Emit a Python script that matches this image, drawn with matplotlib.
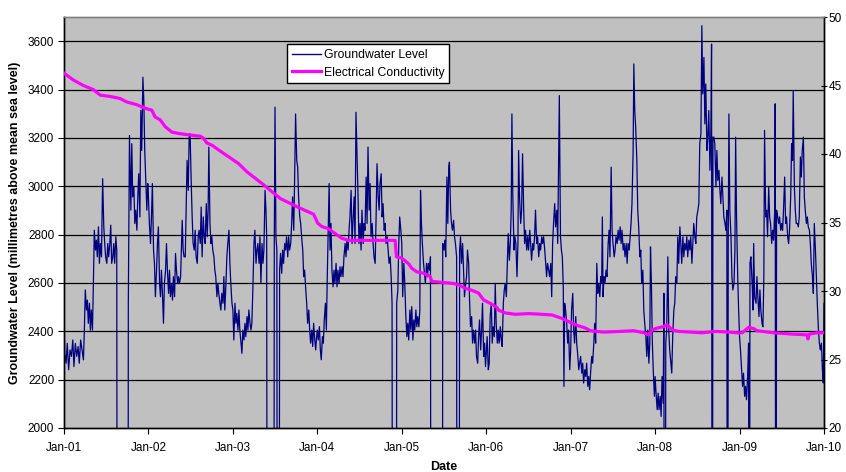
import matplotlib
matplotlib.use("Agg")
import matplotlib.pyplot as plt
from matplotlib.lines import Line2D

plt.rcParams["font.family"] = ["Liberation Sans", "DejaVu Sans"]

# Groundwater level readings per year: (day of year, millimetres above mean sea level).
# A reading of 0 marks a logger dropout.
gw_2001 = [(0, 2529), (3, 2309), (9, 2268), (14, 2350), (20, 2241), (26, 2323), (32, 2296), (38, 2364),
           (43, 2254), (49, 2350), (55, 2296), (61, 2337), (66, 2268), (72, 2364), (78, 2323), (84, 2282),
           (88, 2405), (92, 2571), (97, 2488), (101, 2529), (105, 2433), (110, 2516), (114, 2405), (118, 2488),
           (123, 2405), (127, 2598), (131, 2818), (136, 2736), (140, 2777), (144, 2708), (149, 2832), (153, 2681),
           (157, 2763), (162, 2708), (167, 3031), (172, 2832), (176, 2763), (180, 2708), (185, 2681), (189, 2763),
           (193, 2708), (198, 2763), (202, 2839), (206, 2681), (211, 2708), (215, 2763), (219, 2681), (224, 2791),
           (228, 2736), (231, 0), (276, 0), (278, 2516), (283, 3210), (289, 2901), (293, 3176), (297, 2956),
           (302, 2997), (306, 2846), (310, 2901), (315, 2818), (319, 2956), (323, 3052), (328, 2873), (332, 3313),
           (336, 3148), (341, 3451), (345, 3354), (349, 3148), (354, 3011), (358, 2901), (362, 3011)]
gw_2002 = [(0, 2956), (4, 2846), (9, 2763), (13, 2873), (17, 3011), (22, 2736), (26, 2681), (30, 2543),
           (35, 2653), (39, 2763), (43, 2832), (48, 2598), (52, 2543), (56, 2653), (61, 2543), (65, 2433),
           (69, 2598), (74, 2653), (78, 2763), (82, 2653), (87, 2557), (91, 2653), (95, 2543), (100, 2598),
           (104, 2529), (108, 2626), (113, 2543), (117, 2722), (121, 2653), (126, 2598), (130, 2626), (134, 2598),
           (139, 2626), (143, 2763), (146, 2859), (150, 2736), (154, 2708), (159, 2708), (163, 2901), (167, 3107),
           (172, 2983), (176, 3203), (180, 3217), (185, 3011), (189, 2873), (193, 2763), (198, 2736), (202, 2818),
           (206, 2708), (211, 2681), (215, 2791), (219, 2818), (224, 2763), (228, 2914), (232, 2708), (237, 2873),
           (241, 2791), (245, 2763), (250, 2928), (254, 2791), (258, 2901), (261, 3162), (266, 2846), (270, 2763),
           (274, 2791), (278, 2736), (283, 2708), (287, 2653), (291, 2626), (296, 2543), (300, 2598), (304, 2557),
           (309, 2516), (313, 2488), (317, 2557), (322, 2516), (326, 2626), (330, 2488), (335, 2598), (339, 2708),
           (343, 2763), (348, 2818), (352, 2681), (356, 2598), (361, 2516)]
gw_2003 = [(0, 2488), (4, 2364), (9, 2516), (13, 2433), (17, 2474), (22, 2405), (26, 2488), (30, 2405),
           (35, 2351), (39, 2309), (43, 2405), (48, 2364), (52, 2433), (56, 2378), (61, 2461), (65, 2405),
           (69, 2488), (74, 2433), (78, 2405), (82, 2433), (87, 2598), (91, 2763), (95, 2818), (100, 2681),
           (104, 2736), (108, 2763), (113, 2681), (117, 2791), (121, 2598), (126, 2763), (130, 2681), (134, 2736),
           (139, 2983), (143, 2901), (146, 2791), (149, 0), (176, 0), (179, 2763), (182, 3327), (186, 2791),
           (190, 2736), (193, 0), (199, 0), (202, 2653), (206, 2722), (211, 2640), (215, 2736), (219, 2681),
           (224, 2763), (228, 2736), (232, 2791), (237, 2708), (241, 2791), (245, 2736), (250, 2763), (254, 2846),
           (258, 2956), (263, 2818), (267, 3038), (271, 3299), (276, 3107), (280, 3079), (284, 2956), (289, 2873),
           (293, 2846), (297, 2791), (302, 2736), (306, 2626), (310, 2653), (315, 2571), (319, 2516), (323, 2433),
           (328, 2488), (332, 2405), (336, 2351), (341, 2405), (345, 2337), (349, 2433), (354, 2364), (358, 2323),
           (362, 2378)]
gw_2004 = [(0, 2405), (4, 2364), (9, 2419), (13, 2323), (17, 2282), (22, 2378), (26, 2351), (30, 2447),
           (35, 2516), (39, 2405), (43, 2626), (48, 2873), (51, 3011), (55, 2736), (59, 2846), (63, 2653),
           (68, 2584), (72, 2653), (76, 2598), (81, 2681), (85, 2584), (89, 2653), (94, 2598), (98, 2667),
           (102, 2626), (107, 2667), (111, 2626), (115, 2708), (120, 2763), (124, 2708), (128, 2777), (133, 2736),
           (137, 2818), (141, 2873), (146, 2983), (150, 2763), (154, 2846), (159, 2956), (163, 2763), (167, 3306),
           (172, 3107), (176, 2956), (180, 2763), (185, 2846), (189, 2736), (193, 2901), (198, 2763), (202, 2846),
           (206, 2818), (211, 3038), (215, 2846), (219, 3162), (224, 2901), (228, 3011), (232, 2791), (237, 2846),
           (241, 2763), (245, 2708), (250, 2681), (254, 2873), (258, 3093), (263, 2956), (267, 2901), (271, 3011),
           (276, 3052), (280, 2873), (284, 2928), (289, 2818), (293, 2846), (297, 2763), (302, 2791), (306, 2736),
           (310, 2681), (315, 2708), (319, 2626), (323, 2516), (326, 0), (341, 0), (343, 2516), (348, 2571),
           (352, 2763), (356, 2873), (361, 2818)]
gw_2005 = [(0, 2763), (4, 2543), (9, 2681), (13, 2598), (17, 2474), (22, 2378), (26, 2433), (30, 2364),
           (35, 2488), (39, 2405), (43, 2502), (48, 2364), (52, 2447), (56, 2405), (61, 2488), (65, 2419),
           (69, 2461), (74, 2419), (78, 2488), (81, 2983), (85, 2846), (89, 2763), (94, 2681), (98, 2639),
           (102, 2598), (107, 2681), (111, 2626), (115, 2681), (120, 2653), (124, 2708), (127, 0), (175, 0),
           (177, 2763), (182, 2736), (186, 2777), (190, 2708), (195, 3038), (199, 2846), (203, 3079), (206, 3100),
           (211, 2901), (215, 2846), (219, 2818), (224, 2859), (228, 2791), (232, 2763), (237, 2708), (239, 0),
           (247, 0), (250, 2736), (254, 2791), (258, 2681), (263, 2763), (267, 2653), (271, 2543), (276, 2598),
           (280, 2626), (284, 2736), (289, 2681), (293, 2529), (297, 2419), (302, 2461), (306, 2351), (310, 2405),
           (315, 2351), (319, 2405), (323, 2296), (328, 2268), (332, 2378), (336, 2447), (341, 2323), (345, 2405),
           (349, 2516), (354, 2296), (358, 2351), (362, 2254)]
gw_2006 = [(0, 2309), (4, 2378), (9, 2241), (13, 2268), (17, 2461), (22, 2516), (26, 2351), (30, 2419),
           (35, 2378), (39, 2598), (43, 2433), (48, 2351), (52, 2405), (56, 2351), (61, 2419), (65, 2364),
           (69, 2337), (74, 2516), (78, 2571), (82, 2598), (87, 2543), (91, 2681), (95, 2804), (100, 2694),
           (104, 2763), (108, 2901), (111, 3299), (115, 2956), (120, 2736), (124, 2791), (128, 2763), (133, 2626),
           (137, 2763), (140, 3148), (144, 2956), (149, 2846), (153, 2901), (157, 3134), (162, 2901), (166, 2763),
           (170, 2818), (175, 2736), (179, 2791), (183, 2736), (188, 2818), (192, 2763), (196, 2694), (201, 2763),
           (205, 2736), (209, 2791), (213, 2901), (218, 2763), (222, 2791), (227, 2708), (231, 2763), (235, 2736),
           (240, 2791), (244, 2763), (248, 2791), (253, 2736), (257, 2681), (261, 2626), (265, 2681), (270, 2653),
           (274, 2626), (279, 2681), (283, 2543), (287, 2763), (291, 2846), (296, 2928), (300, 2832), (305, 2901),
           (309, 2763), (312, 3038), (316, 3375), (321, 2791), (325, 2736), (329, 2708), (333, 2584), (336, 2172),
           (339, 2516), (343, 2488), (348, 2433), (352, 2351), (356, 2405), (361, 2241)]
gw_2007 = [(0, 2323), (4, 2488), (9, 2557), (13, 2405), (17, 2351), (22, 2461), (26, 2351), (30, 2309),
           (35, 2241), (39, 2268), (43, 2296), (48, 2227), (52, 2268), (56, 2186), (61, 2241), (65, 2213),
           (69, 2268), (74, 2172), (78, 2213), (82, 2158), (87, 2241), (91, 2296), (95, 2268), (100, 2351),
           (104, 2433), (108, 2351), (113, 2681), (117, 2557), (121, 2598), (126, 2543), (130, 2626), (134, 2598),
           (137, 2873), (140, 2543), (144, 2626), (148, 2598), (153, 2653), (157, 2626), (162, 2763), (166, 2818),
           (170, 2708), (175, 3079), (179, 2818), (183, 2763), (188, 2708), (192, 2736), (196, 2791), (201, 2763),
           (205, 2818), (209, 2777), (214, 2832), (218, 2763), (222, 2818), (227, 2736), (231, 2763), (235, 2708),
           (240, 2763), (244, 2681), (248, 2763), (253, 2736), (257, 2791), (261, 2846), (265, 2928), (270, 3148),
           (273, 3506), (277, 3313), (281, 3244), (286, 3107), (290, 2901), (294, 2832), (299, 2708), (303, 2736),
           (307, 2598), (312, 2653), (316, 2488), (320, 2433), (325, 2378), (329, 2296), (333, 2405), (338, 2268),
           (342, 2351), (345, 2749), (349, 2598), (353, 2351), (358, 2213), (362, 2131)]
gw_2008 = [(0, 2213), (4, 2144), (9, 2076), (13, 2144), (17, 2076), (22, 2131), (26, 2048), (30, 2213),
           (35, 2103), (38, 2557), (40, 0), (43, 0), (46, 2351), (50, 2405), (55, 2708), (59, 2405),
           (63, 2323), (68, 2268), (72, 2227), (76, 2378), (81, 2488), (85, 2516), (89, 2626), (94, 2598),
           (98, 2791), (102, 2681), (107, 2832), (111, 2763), (115, 2681), (120, 2791), (124, 2708), (128, 2763),
           (133, 2736), (137, 2791), (141, 2708), (146, 2777), (150, 2736), (154, 2791), (159, 2681), (163, 2763),
           (167, 2846), (172, 2791), (176, 2763), (180, 2873), (185, 2901), (189, 2928), (193, 3176), (198, 3217),
           (202, 3664), (206, 3382), (211, 3533), (215, 3258), (219, 3423), (224, 3148), (228, 3203), (232, 3313),
           (237, 3066), (241, 3231), (244, 3588), (247, 0), (250, 3203), (254, 3203), (258, 3176), (263, 2997),
           (267, 3148), (271, 3024), (276, 3066), (280, 2983), (284, 2928), (289, 3038), (293, 2956), (297, 2873),
           (302, 2846), (306, 2818), (310, 2901), (313, 0), (316, 2763), (319, 3299), (323, 2901), (328, 2791),
           (332, 2626), (336, 2571), (341, 2598), (345, 2736), (348, 3203), (352, 2873), (357, 2626), (361, 2488)]
gw_2009 = [(0, 2378), (4, 2323), (9, 2241), (13, 2172), (17, 2227), (22, 2131), (26, 2172), (30, 2117),
           (35, 2213), (39, 2351), (42, 0), (45, 2681), (49, 2708), (55, 2584), (58, 2488), (61, 2763),
           (65, 2543), (71, 2516), (75, 2626), (79, 2543), (84, 2461), (88, 2571), (92, 2488), (97, 2433),
           (101, 2419), (105, 2626), (108, 3231), (113, 2873), (117, 2901), (121, 2791), (126, 2997), (130, 2873),
           (134, 2846), (139, 2763), (143, 2818), (147, 2777), (152, 2901), (154, 3341), (157, 0), (160, 2901),
           (165, 2873), (169, 2846), (173, 2873), (178, 2818), (182, 2846), (186, 2818), (190, 2901), (195, 3038),
           (199, 2846), (203, 2873), (208, 2791), (212, 2763), (216, 2818), (221, 2956), (225, 3176), (229, 3107),
           (232, 3396), (237, 2997), (241, 2901), (245, 2846), (250, 2846), (254, 2832), (258, 2873), (263, 3121),
           (267, 3038), (271, 3148), (276, 3203), (280, 2956), (284, 2901), (289, 2846), (293, 2873), (297, 2832),
           (302, 2818), (306, 2763), (310, 2681), (315, 2626), (319, 2557), (323, 2846), (328, 2736), (332, 2626),
           (336, 2516), (341, 2405), (345, 2351), (349, 2323), (354, 2351), (358, 2241), (362, 2186), (365, 2516)]

gw_by_year = {2001: gw_2001, 2002: gw_2002, 2003: gw_2003, 2004: gw_2004, 2005: gw_2005,
              2006: gw_2006, 2007: gw_2007, 2008: gw_2008, 2009: gw_2009}

# Electrical conductivity: (decimal year, value on the right-hand scale)
ec_series = [(2001.000, 45.9), (2001.111, 45.4), (2001.229, 45.0), (2001.348, 44.7), (2001.427, 44.3),
             (2001.545, 44.2), (2001.664, 44.05), (2001.743, 43.8), (2001.862, 43.6), (2001.980, 43.3),
             (2002.040, 43.2), (2002.079, 42.7), (2002.138, 42.5), (2002.198, 42.0), (2002.277, 41.6),
             (2002.356, 41.5), (2002.474, 41.4), (2002.613, 41.3), (2002.652, 41.15), (2002.692, 40.8),
             (2002.751, 40.65), (2002.830, 40.3), (2002.949, 39.8), (2003.067, 39.3), (2003.166, 38.7),
             (2003.364, 37.75), (2003.561, 36.75), (2003.759, 36.15), (2003.957, 35.6), (2004.004, 34.95),
             (2004.055, 34.7), (2004.130, 34.55), (2004.209, 34.2), (2004.289, 33.85), (2004.368, 33.7),
             (2004.921, 33.7), (2004.937, 32.5), (2005.000, 32.4), (2005.079, 32.0), (2005.120, 31.65),
             (2005.178, 31.4), (2005.257, 31.3), (2005.336, 31.05), (2005.356, 30.7), (2005.613, 30.55),
             (2005.672, 30.45), (2005.751, 30.2), (2005.830, 30.05), (2005.909, 29.85), (2005.968, 29.35),
             (2006.047, 29.1), (2006.126, 28.8), (2006.146, 28.6), (2006.225, 28.4), (2006.344, 28.3),
             (2006.502, 28.35), (2006.660, 28.3), (2006.779, 28.25), (2006.897, 28.0), (2007.016, 27.65),
             (2007.095, 27.45), (2007.174, 27.3), (2007.233, 27.1), (2007.391, 27.0), (2007.589, 27.05),
             (2007.747, 27.1), (2007.866, 26.95), (2007.925, 26.8), (2007.964, 27.15), (2008.024, 27.3),
             (2008.103, 27.4), (2008.140, 27.55), (2008.202, 27.15), (2008.281, 27.05), (2008.557, 26.95),
             (2008.715, 27.05), (2008.874, 27.0), (2008.972, 26.95), (2009.032, 26.95), (2009.107, 27.35),
             (2009.170, 27.25), (2009.206, 27.1), (2009.403, 26.95), (2009.640, 26.85), (2009.798, 26.8),
             (2009.810, 26.5), (2009.826, 26.85), (2009.917, 26.95), (2009.996, 26.95)]

x_tick_years = list(range(2001, 2011))
x_tick_labels = ["Jan-01", "Jan-02", "Jan-03", "Jan-04", "Jan-05",
                 "Jan-06", "Jan-07", "Jan-08", "Jan-09", "Jan-10"]
left_ticks = list(range(2000, 3601, 200))
right_ticks = list(range(20, 51, 5))

gw_t, gw_v = [], []
for year, pairs in gw_by_year.items():
    for day, mm in pairs:
        gw_t.append(year + day / 365.0)
        gw_v.append(mm)
ec_t = [p[0] for p in ec_series]
ec_v = [p[1] for p in ec_series]

W, H = 846, 472
fig = plt.figure(figsize=(W / 100, H / 100), dpi=100)
ax = fig.add_axes([64 / W, 1 - 428 / H, 760 / W, 411 / H])
ax.set_facecolor("#C0C0C0")

for y in left_ticks[1:]:
    ax.axhline(y, color="black", lw=0.9, zorder=1)

ax.plot(gw_t, gw_v, color="#000080", lw=0.9, zorder=2)
ax.set_xlim(2001, 2010)
ax.set_ylim(2000, 3700)
ax.set_yticks(left_ticks)
ax.set_xticks(x_tick_years)
ax.set_xticklabels(x_tick_labels)

ax2 = ax.twinx()
ax2.plot(ec_t, ec_v, color="#FF00FF", lw=2.3, zorder=3)
ax2.set_ylim(20, 50)
ax2.set_yticks(right_ticks)

for a in (ax, ax2):
    a.spines["top"].set_color("#808080")
    a.spines["left"].set_color("black")
    a.spines["right"].set_color("black")
    a.spines["bottom"].set_color("black")
    for s in a.spines.values():
        s.set_linewidth(1.0)

ax.tick_params(axis="y", direction="out", length=4, width=0.8, pad=3, labelsize=8.5)
ax.tick_params(axis="x", direction="out", length=4, width=0.8, pad=6, labelsize=8.5)
ax2.tick_params(axis="y", direction="inout", length=4.5, width=0.8, pad=1, labelsize=8.5)

ax.set_ylabel("Groundwater Level (millimetres above mean sea level)", fontsize=9, fontweight="bold", labelpad=5)
ax.set_xlabel("Date", fontsize=9, fontweight="bold", labelpad=5)

handles = [Line2D([], [], color="#000080", lw=1.0), Line2D([], [], color="#FF00FF", lw=2.3)]
leg = ax2.legend(handles, ["Groundwater Level", "Electrical Conductivity"], loc="upper left",
                 bbox_to_anchor=(0.293, 0.934), borderaxespad=0, frameon=True, fancybox=False,
                 edgecolor="black", framealpha=1, fontsize=8.8, borderpad=0.4,
                 handlelength=2.4, handletextpad=0.25, labelspacing=0.45)
leg.get_frame().set_linewidth(1.0)

fig.savefig("out.png", dpi=100)
